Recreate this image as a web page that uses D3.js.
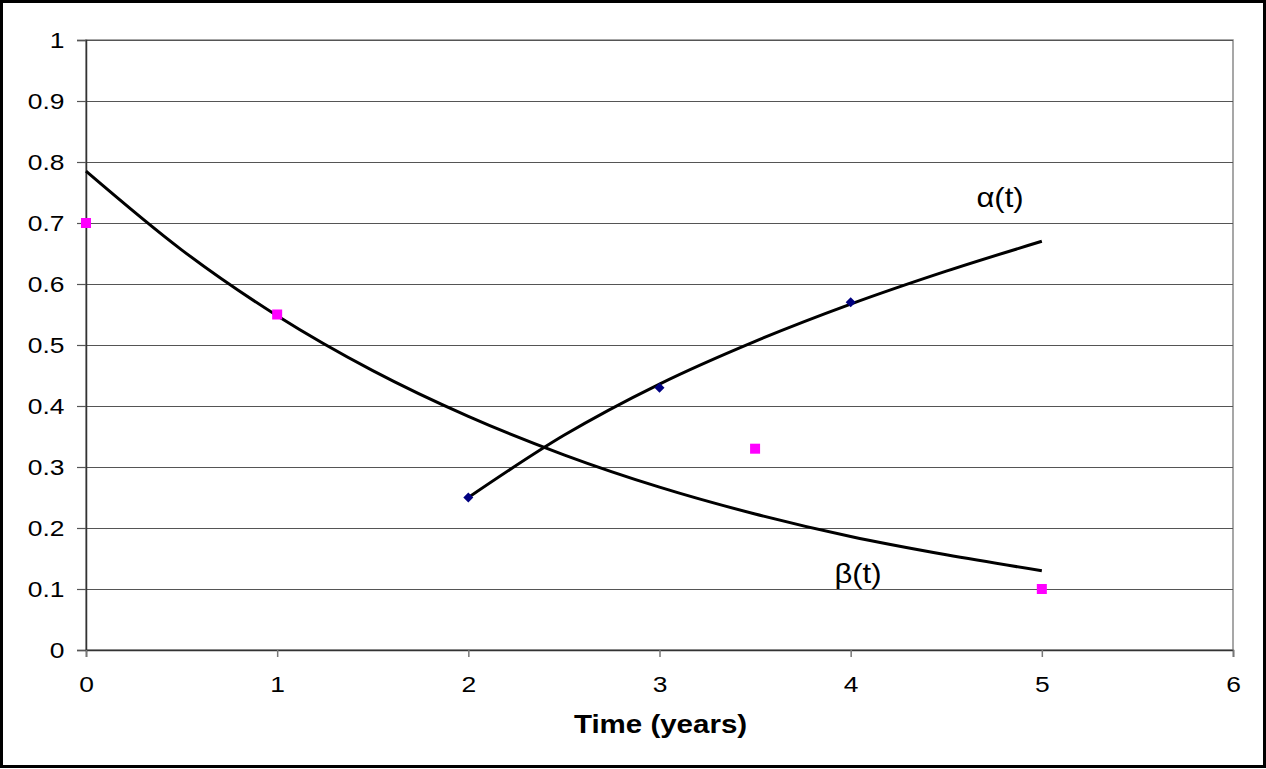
<!DOCTYPE html>
<html>
<head>
<meta charset="utf-8">
<script src="https://cdn.jsdelivr.net/npm/d3@7"></script>
<style>
  body { margin: 0; background: #fff; }
  svg { display: block; font-family: "Liberation Sans", Arial, sans-serif; }
</style>
</head>
<body>
<script>
// observed points
var betaT = [0, 1, 3.5, 5];
var betaV = [0.7, 0.55, 0.33, 0.1];
var alphaT = [2, 3, 4];
var alphaV = [0.25, 0.43, 0.57];

// fitted curves
var betaFitT = [0, 0.5, 1, 1.5, 2, 2.5, 3, 3.5, 4, 4.5, 5];
var betaFitV = [0.785, 0.656, 0.548, 0.458, 0.383, 0.32, 0.267, 0.223, 0.186, 0.156, 0.13];
var alphaFitT = [2, 2.5, 3, 3.5, 4, 4.5, 5];
var alphaFitV = [0.25, 0.352, 0.436, 0.506, 0.567, 0.621, 0.67];

var xTicks = [0, 1, 2, 3, 4, 5, 6];
var yTicks = [0, 0.1, 0.2, 0.3, 0.4, 0.5, 0.6, 0.7, 0.8, 0.9, 1];

var W = 1266, H = 769;
var margin = {top: 40, right: 33, bottom: 119, left: 86};
var width = W - margin.left - margin.right;
var height = H - margin.top - margin.bottom;

var svg = d3.select("body").append("svg")
    .attr("width", W)
    .attr("height", H);

// outer frame
svg.append("rect")
    .attr("x", 1.5).attr("y", 1.5)
    .attr("width", W - 3).attr("height", H - 4)
    .attr("fill", "none").attr("stroke", "#000").attr("stroke-width", 3);

var g = svg.append("g")
    .attr("transform", "translate(" + margin.left + "," + margin.top + ")");

var x = d3.scaleLinear().domain([0, 6]).range([0, width]);
var y = d3.scaleLinear().domain([0, 1]).range([height, 0]);

// plot area border
g.append("rect")
    .attr("width", width).attr("height", height)
    .attr("fill", "none").attr("stroke", "#8a8a8a").attr("stroke-width", 1.5);

// gridlines
g.append("g")
    .attr("class", "grid")
    .call(d3.axisLeft(y).tickValues(yTicks).tickSize(-width).tickFormat(""))
    .call(s => s.select(".domain").remove())
    .selectAll("line").attr("stroke", "#555").attr("stroke-width", 1.2);

// y axis
var yAxis = g.append("g")
    .call(d3.axisLeft(y).tickValues(yTicks).tickSize(9).tickPadding(9)
      .tickFormat(d => d3.format("~g")(d)));
yAxis.select(".domain").attr("stroke", "#333").attr("stroke-width", 1.5);
yAxis.selectAll(".tick line").attr("stroke", "#555").attr("stroke-width", 1.2);
yAxis.selectAll(".tick text")
    .attr("font-size", 22).attr("fill", "#000")
    .attr("font-family", "Liberation Sans, Arial, sans-serif")
    .attr("transform", "scale(1.2,1)");

// x axis
var xAxis = g.append("g")
    .attr("transform", "translate(0," + height + ")")
    .call(d3.axisBottom(x).tickValues(xTicks).tickSize(7).tickPadding(19)
      .tickFormat(d3.format("d")));
xAxis.select(".domain").attr("stroke", "#333").attr("stroke-width", 1.5);
xAxis.selectAll(".tick line").attr("stroke", "#777").attr("stroke-width", 1.5);
xAxis.selectAll(".tick text")
    .attr("font-size", 22).attr("fill", "#000")
    .attr("font-family", "Liberation Sans, Arial, sans-serif")
    .attr("transform", "scale(1.2,1)");

// x axis title
g.append("text")
    .attr("x", 0).attr("y", 0)
    .attr("transform", "translate(" + (width / 2 + 1) + "," + (height + 83) + ") scale(1.18,1)")
    .attr("text-anchor", "middle")
    .attr("font-size", 25).attr("font-weight", "bold")
    .text("Time (years)");

// fitted curves
var line = d3.line()
    .x(d => x(d[0]))
    .y(d => y(d[1]))
    .curve(d3.curveMonotoneX);

g.append("path")
    .datum(d3.zip(betaFitT, betaFitV))
    .attr("d", line)
    .attr("fill", "none").attr("stroke", "#000").attr("stroke-width", 3);

g.append("path")
    .datum(d3.zip(alphaFitT, alphaFitV))
    .attr("d", line)
    .attr("fill", "none").attr("stroke", "#000").attr("stroke-width", 3);

// markers
g.selectAll(".beta")
    .data(d3.zip(betaT, betaV))
    .join("rect")
    .attr("class", "beta")
    .attr("x", d => x(d[0]) - 5).attr("y", d => y(d[1]) - 5)
    .attr("width", 10).attr("height", 10)
    .attr("fill", "#ff00ff");

g.selectAll(".alpha")
    .data(d3.zip(alphaT, alphaV))
    .join("path")
    .attr("class", "alpha")
    .attr("transform", d => "translate(" + x(d[0]) + "," + y(d[1]) + ")")
    .attr("d", "M0,-5L5,0L0,5L-5,0Z")
    .attr("fill", "#000080");

// curve labels
svg.append("text")
    .attr("transform", "translate(1000,207) scale(1.15,1)")
    .attr("text-anchor", "middle")
    .attr("font-size", 27)
    .text("α(t)");

svg.append("text")
    .attr("transform", "translate(858,583) scale(1.15,1)")
    .attr("text-anchor", "middle")
    .attr("font-size", 27)
    .text("β(t)");
</script>
</body>
</html>
